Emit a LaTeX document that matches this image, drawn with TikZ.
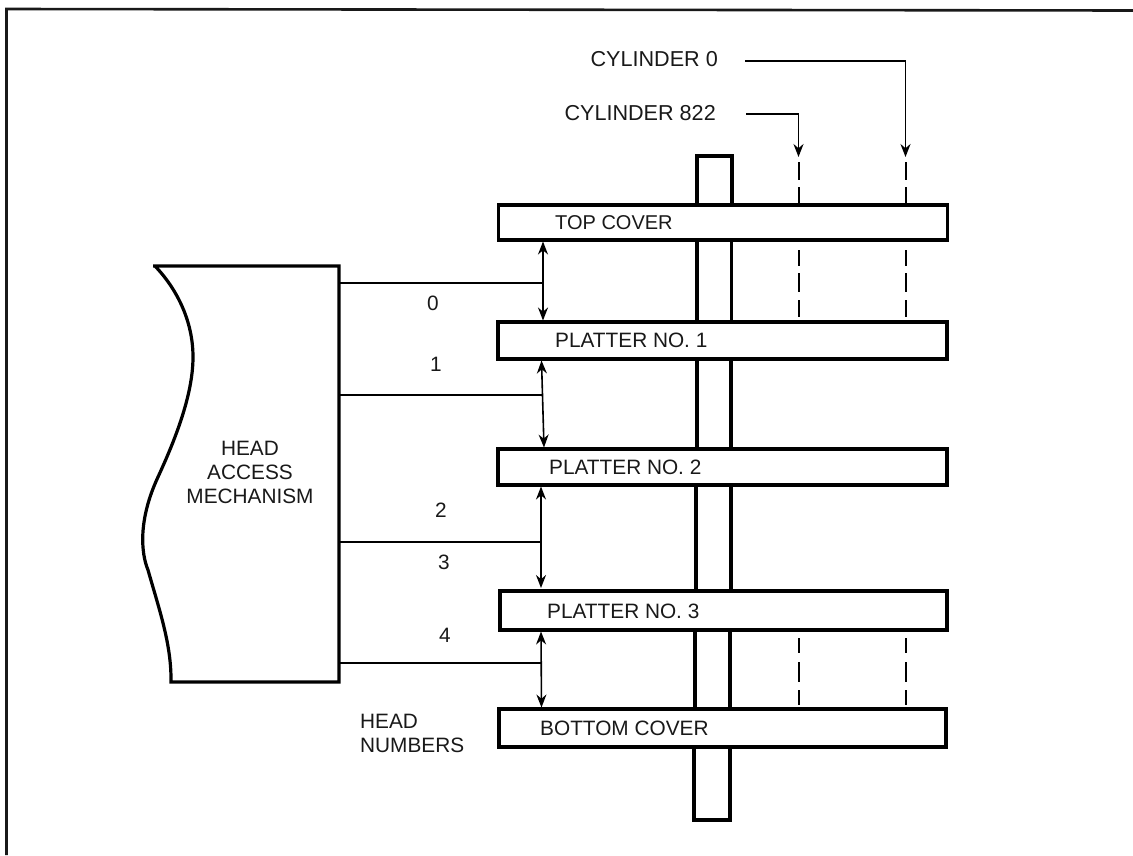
\documentclass[tikz,border=0pt]{standalone}
\usepackage{fontspec}
\setmainfont{Liberation Sans}
\usetikzlibrary{arrows.meta}
\tikzset{
  lbl/.style={inner sep=0pt,font=\fontsize{20.8}{24}\selectfont,text=black!90},
  lblw/.style={lbl,anchor=west},
  lblcyl/.style={lbl,anchor=east,font=\fontsize{21.6}{24}\selectfont},
  plate/.style={draw,line width=3.2pt,fill=white,inner sep=0pt,minimum width=449pt,minimum height=36pt},
  shaft/.style={line width=3.2pt},
  dashline/.style={line width=2pt},
  thin line/.style={line width=1.7pt},
  dbl/.style={line width=1.6pt,{Stealth[length=13pt,width=10pt]}-{Stealth[length=13pt,width=10pt]}},
  lead/.style={line width=1.7pt,-{Stealth[length=13pt,width=10pt]}}
}
\begin{document}
\begin{tikzpicture}[x=1pt,y=-1pt]
\useasboundingbox (0,0) rectangle (1133,855);
\fill[white] (0,0) rectangle (1133,855);
\draw[line width=2.6pt,black!90] (6.5,855) -- (6.5,9) -- (1133,10.5);
% spindle
\draw[shaft,line cap=butt] (697,205) -- (697,156) -- (732,156) -- (732,205);
\foreach \xa/\xb/\ya/\yb in {697/731.5/240/322, 697/731/359/449, 696/731/485/591, 695/730/630/709}
  \draw[shaft] (\xa,\ya) -- (\xa,\yb) (\xb,\ya) -- (\xb,\yb);
\draw[shaft] (694,747) -- (694,820) -- (730,820) -- (730,747);
% plates
\node[plate,minimum width=449.5pt,minimum height=35pt] (top) at (723,222.5) {};
\node[plate,minimum height=37pt] (p1) at (722.5,340.5) {};
\node[plate,minimum height=36pt] (p2) at (722.5,467) {};
\node[plate,minimum width=447pt,minimum height=39pt] (p3) at (723.5,610.5) {};
\node[plate,minimum width=447pt,minimum height=38pt] (bot) at (722.5,728) {};
\node[lblw,font=\fontsize{20}{24}\selectfont] at (555,223) {TOP COVER};
\node[lblw] at (555,340) {PLATTER NO. 1};
\node[lblw] at (549,467) {PLATTER NO. 2};
\node[lblw] at (547,611) {PLATTER NO. 3};
\node[lblw] at (540,728) {BOTTOM COVER};
% dashed cylinders
\foreach \x in {798.5,905.5}{
  \draw[dashline] (\x,162) -- (\x,180) (\x,187) -- (\x,204);
  \draw[dashline] (\x,250) -- (\x,266) (\x,273) -- (\x,292) (\x,300) -- (\x,317);
  \draw[dashline] (\x,638) -- (\x,653) (\x,662) -- (\x,682) (\x,690) -- (\x,705);
}
% cylinder labels
\node[lblcyl] (c0) at (718,59) {CYLINDER 0};
\node[lblcyl] (c822) at (716,113) {CYLINDER 822};
\coordinate (c0s) at (745,61);
\coordinate (c0e) at (905.5,157);
\coordinate (c8s) at (746,114);
\coordinate (c8e) at (798.5,157);
\draw[lead] (c0s) -| (c0e);
\draw[lead] (c8s) -| (c8e);
% head access mechanism
\draw[line width=3.2pt,fill=white,line join=miter] (153,266) -- (339,266) -- (339,682) -- (171,682)
  .. controls (171.5,645) and (160,612) .. (148,570)
  .. controls (141,553) and (138,520) .. (158,477)
  .. controls (175,440) and (193,395) .. (193,357)
  .. controls (193,320) and (176,288) .. (155,266);
\node[lbl,align=center] (ham) at (250,472) {HEAD\\ACCESS\\MECHANISM};
% head leads
\coordinate (a0) at (543,283);
\coordinate (a1) at (542,395);
\coordinate (a2) at (541,542);
\coordinate (a3) at (541,663);
\draw[thin line] (340,283) -- (a0);
\draw[thin line] (340,395) -- (a1);
\draw[thin line] (340,542) -- (a2);
\draw[thin line] (340,663) -- (a3);
\draw[dbl] (543,241.5) -- (543,320.5);
\draw[dbl] (541.5,360.5) -- (544,447.5);
\draw[dbl] (541,486.5) -- (541,588);
\draw[dbl] (541,631.5) -- (541.5,707.5);
\node[lbl] at (433,303) {0};
\node[lbl] at (436,364) {1};
\node[lbl] at (441,510) {2};
\node[lbl] at (444,562) {3};
\node[lbl] at (445,635) {4};
\node[lbl,anchor=west,align=left] at (360,733) {HEAD\\NUMBERS};
\end{tikzpicture}
\end{document}
